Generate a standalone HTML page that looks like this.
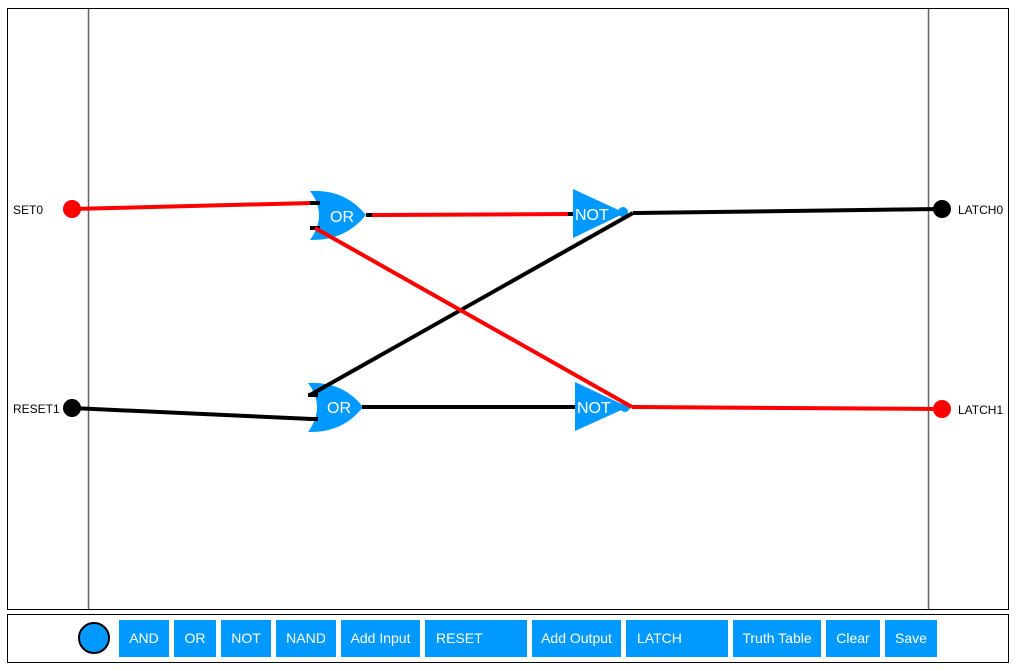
<!DOCTYPE html>
<html><head><meta charset="utf-8"><style>
body{margin:0;background:#fff;width:1016px;height:671px;overflow:hidden;font-family:"Liberation Sans",Arial,sans-serif}
.b{position:absolute;top:620px;height:37px;background:#0099ff;color:#fff;font-size:14px;line-height:37px;text-align:center}
</style></head><body>
<svg width="1016" height="671" style="position:absolute;left:0;top:0">
<rect x="7.5" y="8.5" width="1001" height="601" fill="none" stroke="#000"/>
<rect x="7.5" y="614.5" width="1001" height="48" fill="none" stroke="#000"/>
<line x1="88.5" y1="9" x2="88.5" y2="609" stroke="#666" stroke-width="1.5"/>
<line x1="928.5" y1="9" x2="928.5" y2="609" stroke="#666" stroke-width="1.5"/>
<g stroke-width="4" fill="none">
<line x1="72" y1="209" x2="312" y2="203" stroke="#f00"/>
<line x1="370" y1="215" x2="573" y2="214" stroke="#f00"/>
<line x1="72" y1="408" x2="312" y2="419" stroke="#000"/>
<line x1="633" y1="213" x2="942" y2="209" stroke="#000"/>
<line x1="366" y1="407" x2="575" y2="407" stroke="#000"/>
<line x1="632" y1="407" x2="942" y2="409" stroke="#f00"/>
</g>
<path d="M310,191 Q345,189 366,215 Q345,241 310,240 Q328,215 310,191Z" fill="#0099ff"/>
<path d="M308,383 Q343,381 363,407 Q343,433 308,432 Q326,407 308,383Z" fill="#0099ff"/>
<g stroke="#000" stroke-width="4"><line x1="310" y1="203" x2="320" y2="203"/><line x1="310" y1="228" x2="320" y2="228"/><line x1="366" y1="215" x2="372" y2="215"/>
<line x1="308" y1="395" x2="318" y2="395"/><line x1="308" y1="419" x2="318" y2="419"/><line x1="362" y1="407" x2="370" y2="407"/>
<line x1="568" y1="214" x2="575" y2="214"/><line x1="570" y1="407" x2="577" y2="407"/></g>
<polygon points="573,189 573,238 625,213" fill="#0099ff"/>
<circle cx="623" cy="212" r="5" fill="#0099ff"/>
<polygon points="575,382 575,431 628,407" fill="#0099ff"/>
<circle cx="625" cy="407" r="5" fill="#0099ff"/>
<g fill="#fff" font-size="16" font-family="Liberation Sans,Arial,sans-serif">
<text x="330" y="222">OR</text><text x="327" y="413">OR</text>
<text x="575" y="220">NOT</text><text x="577" y="413">NOT</text></g>
<g stroke-width="4">
<line x1="310" y1="395" x2="633" y2="213" stroke="#000"/>
<line x1="315" y1="228" x2="632" y2="407" stroke="#f00"/>
</g>
<circle cx="72" cy="209" r="9" fill="#f00"/><circle cx="72" cy="408" r="9" fill="#000"/>
<circle cx="942" cy="209" r="9" fill="#000"/><circle cx="942" cy="409" r="9" fill="#f00"/>
<g font-size="12" font-family="Liberation Sans,Arial,sans-serif" fill="#000">
<text x="13" y="214">SET0</text><text x="13" y="413">RESET1</text>
<text x="958" y="214">LATCH0</text><text x="958" y="414">LATCH1</text></g>
<circle cx="94" cy="638" r="15" fill="#0099ff" stroke="#000" stroke-width="2"/>
</svg>
<div class="b" style="left:119px;width:50px">AND</div>
<div class="b" style="left:174px;width:42px">OR</div>
<div class="b" style="left:221px;width:50px">NOT</div>
<div class="b" style="left:276px;width:60px">NAND</div>
<div class="b" style="left:341px;width:79px">Add Input</div>
<div class="b" style="left:425px;width:91px;padding-left:11px;text-align:left">RESET</div>
<div class="b" style="left:532px;width:89px">Add Output</div>
<div class="b" style="left:626px;width:91px;padding-left:11px;text-align:left">LATCH</div>
<div class="b" style="left:733px;width:88px">Truth Table</div>
<div class="b" style="left:826px;width:54px">Clear</div>
<div class="b" style="left:885px;width:52px">Save</div>
</body></html>
